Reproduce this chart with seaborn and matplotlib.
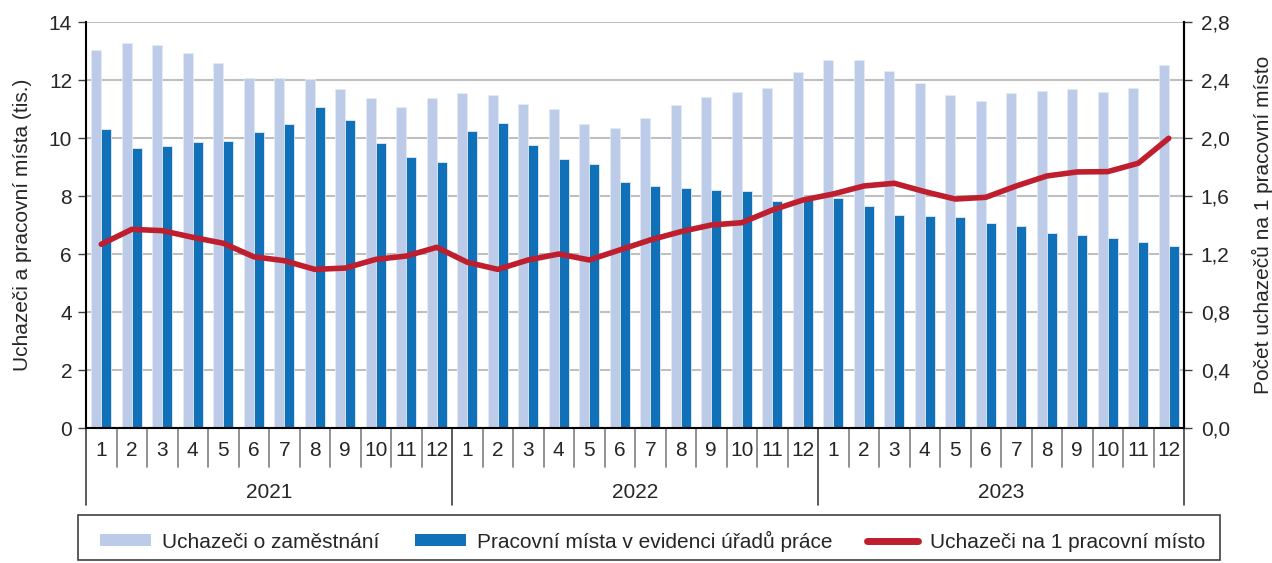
import numpy as np
import pandas as pd
import seaborn as sns
import matplotlib.pyplot as plt
from matplotlib.patches import Patch, Rectangle
from matplotlib.lines import Line2D
from matplotlib.ticker import FuncFormatter

# monthly data 2021-2023 (thousands)
years = ["2021", "2022", "2023"]
months = [str(m) for m in range(1, 13)]

uchazeci = [
    13.03, 13.27, 13.22, 12.94, 12.58, 12.08, 12.06, 12.02, 11.68, 11.37, 11.08, 11.37,
    11.54, 11.49, 11.16, 11.00, 10.50, 10.36, 10.69, 11.13, 11.41, 11.57, 11.72, 12.28,
    12.70, 12.69, 12.32, 11.91, 11.48, 11.26, 11.56, 11.61, 11.70, 11.60, 11.74, 12.51,
]
mista = [
    10.31, 9.67, 9.73, 9.87, 9.91, 10.22, 10.48, 11.08, 10.62, 9.82, 9.33, 9.16,
    10.24, 10.52, 9.75, 9.27, 9.10, 8.49, 8.34, 8.29, 8.20, 8.18, 7.83, 7.87,
    7.92, 7.64, 7.34, 7.32, 7.29, 7.08, 6.97, 6.71, 6.66, 6.55, 6.42, 6.27,
]
na_misto = [
    1.267, 1.370, 1.361, 1.315, 1.274, 1.181, 1.154, 1.094, 1.103, 1.163, 1.186, 1.246,
    1.143, 1.094, 1.159, 1.200, 1.159, 1.228, 1.297, 1.354, 1.400, 1.416, 1.503, 1.572,
    1.614, 1.669, 1.688, 1.630, 1.579, 1.591, 1.669, 1.738, 1.766, 1.768, 1.826, 1.998,
]

s_light = "Uchazeči o zaměstnání"
s_dark = "Pracovní místa v evidenci úřadů práce"
s_line = "Uchazeči na 1 pracovní místo"

c_light = "#BCCBE8"
c_dark = "#1070B8"
c_red = "#BE1E2D"
c_text = "#262626"
fs = 15

sns.set_theme(style="white")
plt.rcParams["font.family"] = ["Liberation Sans", "DejaVu Sans"]
plt.rcParams["text.color"] = c_text
plt.rcParams["axes.labelcolor"] = c_text
plt.rcParams["xtick.color"] = c_text
plt.rcParams["ytick.color"] = c_text

n = len(uchazeci)
pos = np.arange(n)
df = pd.DataFrame({
    "pos": np.concatenate([pos, pos]),
    "series": [s_light] * n + [s_dark] * n,
    "value": uchazeci + mista,
})

fig = plt.figure(figsize=(12.72, 5.63), dpi=100)
ax = fig.add_axes([86 / 1272, 1 - 428 / 563, (1184 - 86) / 1272, (428 - 22) / 563])

sns.barplot(data=df, x="pos", y="value", hue="series", hue_order=[s_light, s_dark],
            palette=[c_light, c_dark], saturation=1, width=0.66, ax=ax, legend=False,
            edgecolor="#E4EAF6", linewidth=0.6)

ax.set_xlim(-0.5, n - 0.5)
ax.set_ylim(0, 14)
ax.set_yticks(np.arange(0, 15, 2))
ax.set_axisbelow(True)
ax.yaxis.grid(True, color="#BFBFBF", linewidth=1.5)
ax.set_xticks(pos)
ax.set_xticklabels(months * 3, fontsize=fs)
ax.tick_params(axis="x", length=0, pad=9)
ax.tick_params(axis="y", left=True, length=6, width=1, labelsize=fs, pad=4, color="#404040")
ax.set_xlabel("")
ax.set_ylabel("Uchazeči a pracovní místa (tis.)", fontsize=fs, labelpad=12)
ax.spines["top"].set_visible(False)
for side in ["left", "bottom", "right"]:
    ax.spines[side].set_color("black")
    ax.spines[side].set_linewidth(1.5)

ax2 = ax.twinx()
sns.lineplot(x=pos, y=na_misto, ax=ax2, color=c_red, linewidth=4.0,
             solid_capstyle="round", solid_joinstyle="round")
ax2.set_xlim(-0.5, n - 0.5)
ax2.set_ylim(0, 2.8)
ax2.set_yticks(np.arange(0, 2.81, 0.4))
ax2.yaxis.set_major_formatter(FuncFormatter(lambda v, p: f"{v:.1f}".replace(".", ",")))
ax2.tick_params(axis="y", right=True, length=6, width=1, labelsize=fs, pad=6, color="#404040")
ax2.set_ylabel("Počet uchazečů na 1 pracovní místo", fontsize=fs, labelpad=16)
ax2.spines["top"].set_visible(False)
ax2.spines["right"].set_color("black")
ax2.spines["right"].set_linewidth(1.5)
ax2.spines["left"].set_visible(False)
ax2.spines["bottom"].set_visible(False)

# category separators below the axis
for b in np.arange(-0.5, n, 1.0):
    if (b + 0.5) % 12 == 0:
        ax.axvline(b, ymin=-0.19, ymax=0, color="#404040", linewidth=1.2, clip_on=False)
    else:
        ax.axvline(b, ymin=-0.096, ymax=0, color="#7F7F7F", linewidth=1.2, clip_on=False)

trans = ax.get_xaxis_transform()
for i, y in enumerate(years):
    ax.text(12 * i + 5.5, -0.16, y, transform=trans, ha="center", va="center", fontsize=fs)

# legend with a wide outer frame
fig.patches.append(Rectangle((78 / 1272, 1 - 560 / 563), (1220 - 78) / 1272, 45 / 563,
                             transform=fig.transFigure, facecolor="none",
                             edgecolor="#404040", linewidth=1.2))
handles = [
    Patch(facecolor=c_light, edgecolor="none"),
    Patch(facecolor=c_dark, edgecolor="none"),
    Line2D([0], [0], color=c_red, linewidth=5, solid_capstyle="round"),
]
fig.legend(handles, [s_light, s_dark, s_line], ncol=3, loc="center",
           bbox_to_anchor=(100 / 1272, 1 - 551 / 563, (1205 - 100) / 1272, 20 / 563),
           mode="expand", fontsize=fs, frameon=False, borderpad=0.0,
           handlelength=2.45, handleheight=0.55, handletextpad=0.55, borderaxespad=0)

fig.savefig("out.png", dpi=100)
